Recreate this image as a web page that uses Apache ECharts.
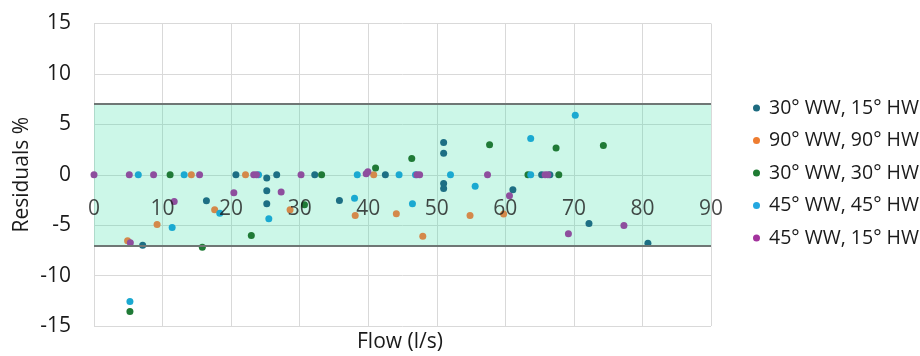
<!DOCTYPE html>
<html>
<head>
<meta charset="utf-8">
<script src="https://cdn.jsdelivr.net/npm/echarts@6/dist/echarts.min.js"></script>
<style>html,body{margin:0;padding:0;background:#fff}#c{width:920px;height:356px}</style>
</head>
<body>
<div id="c"></div>
<script>
const seriesNames = ['30° WW, 15° HW', '90° WW, 90° HW', '30° WW, 30° HW', '45° WW, 45° HW', '45° WW, 15° HW'];
const xTicks = [0, 10, 20, 30, 40, 50, 60, 70, 80, 90];
const yTicks = [-15, -10, -5, 0, 5, 10, 15];
const bandLimit = 7;

const ww30hw15 = [[20.7,0],[25.2,-0.33],[26.65,0],[32.2,0],[25.2,-1.59],[25.2,-2.88],[16.4,-2.58],[7.1,-6.99],[35.8,-2.55],[42.5,0],[51.0,3.21],[51.0,2.12],[51.0,-0.86],[51.0,-1.36],[61.1,-1.49],[65.3,0],[66.5,0],[72.2,-4.83],[80.8,-6.79]];
const ww90hw90 = [[14.2,0],[22.1,0],[17.6,-3.48],[9.2,-4.93],[4.9,-6.55],[28.6,-3.48],[38.1,-4.04],[40.8,0],[44.1,-3.87],[47.96,-6.09],[54.85,-4.04],[59.75,-3.9]];
const ww30hw30 = [[11.1,0],[15.8,-7.18],[22.95,-6.02],[5.24,-13.57],[30.7,-2.98],[33.2,0],[41.07,0.66],[46.35,1.62],[57.7,2.98],[63.3,0],[67.4,2.65],[67.8,0],[74.3,2.91]];
const ww45hw45 = [[6.46,0],[13.15,0],[18.35,-3.81],[11.4,-5.23],[5.24,-12.58],[24.0,0],[25.5,-4.37],[38.0,-2.32],[38.4,0],[44.5,0],[46.45,-2.88],[46.9,0],[52.0,0],[55.6,-1.13],[63.7,3.6],[63.7,0],[70.2,5.89]];
const ww45hw15 = [[0,0],[5.15,0],[8.69,0],[15.4,0],[23.3,0],[23.7,0],[20.4,-1.79],[11.7,-2.65],[5.3,-6.75],[30.2,0],[27.3,-1.72],[39.7,0.1],[39.95,0.3],[47.1,0],[47.5,0],[57.4,0],[60.6,-2.09],[65.8,0],[66.2,0],[69.2,-5.86],[77.3,-5.03]];

const allData = [ww30hw15, ww90hw90, ww30hw30, ww45hw45, ww45hw15];
const pointColors = ['#1d6f84', '#d4894a', '#1f7a36', '#1aa9d1', '#8e4e9e'];
const legendColors = ['#1d6b80', '#ee7d31', '#1e7b32', '#23a7e0', '#a3339d'];

const FONT = 'Open Sans';
const chart = echarts.init(document.getElementById('c'), null, {renderer: 'canvas'});

const series = [{
  name: 'band',
  type: 'scatter',
  data: [],
  z: 1,
  silent: true,
  markArea: {
    silent: true,
    itemStyle: {color: 'rgba(51,223,163,0.25)'},
    data: [[{yAxis: -bandLimit}, {yAxis: bandLimit}]]
  },
  markLine: {
    silent: true,
    symbol: 'none',
    label: {show: false},
    lineStyle: {color: '#6f7775', width: 2, type: 'solid'},
    data: [{yAxis: bandLimit}, {yAxis: -bandLimit}]
  }
}];
allData.forEach((d, i) => {
  series.push({
    name: seriesNames[i],
    type: 'scatter',
    data: d,
    symbol: 'circle',
    symbolSize: 7,
    z: 3,
    itemStyle: {color: pointColors[i], opacity: 1}
  });
});
// x tick labels drawn at the y = 0 crossing (axis crosses at zero as in the reference)
series.push({
  name: 'xTickLabels',
  type: 'scatter',
  data: xTicks.map(t => [t, 0]),
  symbolSize: 0,
  silent: true,
  z: 10,
  label: {
    show: true,
    position: 'inside',
    offset: [0, 34],
    formatter: p => String(p.value[0]),
    fontFamily: FONT,
    fontSize: 21,
    color: '#1a1a1a'
  }
});

chart.setOption({
  animation: false,
  backgroundColor: '#fff',
  grid: {left: 94, right: 209, top: 23.5, bottom: 30, outerBoundsMode: 'none', containLabel: false},
  legend: {
    orient: 'vertical',
    left: 748,
    top: 93,
    itemWidth: 7,
    itemHeight: 7,
    itemGap: 12.5,
    icon: 'circle',
    textStyle: {fontFamily: FONT, fontSize: 19.5, color: '#1a1a1a', lineHeight: 20, padding: [0, 0, 0, 4]},
    data: seriesNames.map((n, i) => ({name: n, itemStyle: {color: legendColors[i]}}))
  },
  xAxis: {
    type: 'value',
    min: xTicks[0],
    max: xTicks[xTicks.length - 1],
    interval: 10,
    axisLine: {show: false},
    axisTick: {show: false},
    axisLabel: {show: false},
    splitLine: {show: true, lineStyle: {color: '#d9d9d9', width: 1}}
  },
  yAxis: {
    type: 'value',
    min: yTicks[0],
    max: yTicks[yTicks.length - 1],
    interval: 5,
    name: 'Residuals %',
    nameLocation: 'middle',
    nameGap: 61,
    nameMoveOverlap: false,
    nameTextStyle: {fontFamily: FONT, fontSize: 21, color: '#1a1a1a'},
    axisLine: {show: false},
    axisTick: {show: false},
    axisLabel: {fontFamily: FONT, fontSize: 21, color: '#1a1a1a', margin: 23},
    splitLine: {show: true, lineStyle: {color: '#d9d9d9', width: 1}}
  },
  graphic: [{
    type: 'text',
    left: 402 - 45,
    top: 332,
    style: {text: 'Flow (l/s)', font: '21px "Open Sans"', fill: '#1a1a1a'}
  }],
  series: series
});
</script>
</body>
</html>
